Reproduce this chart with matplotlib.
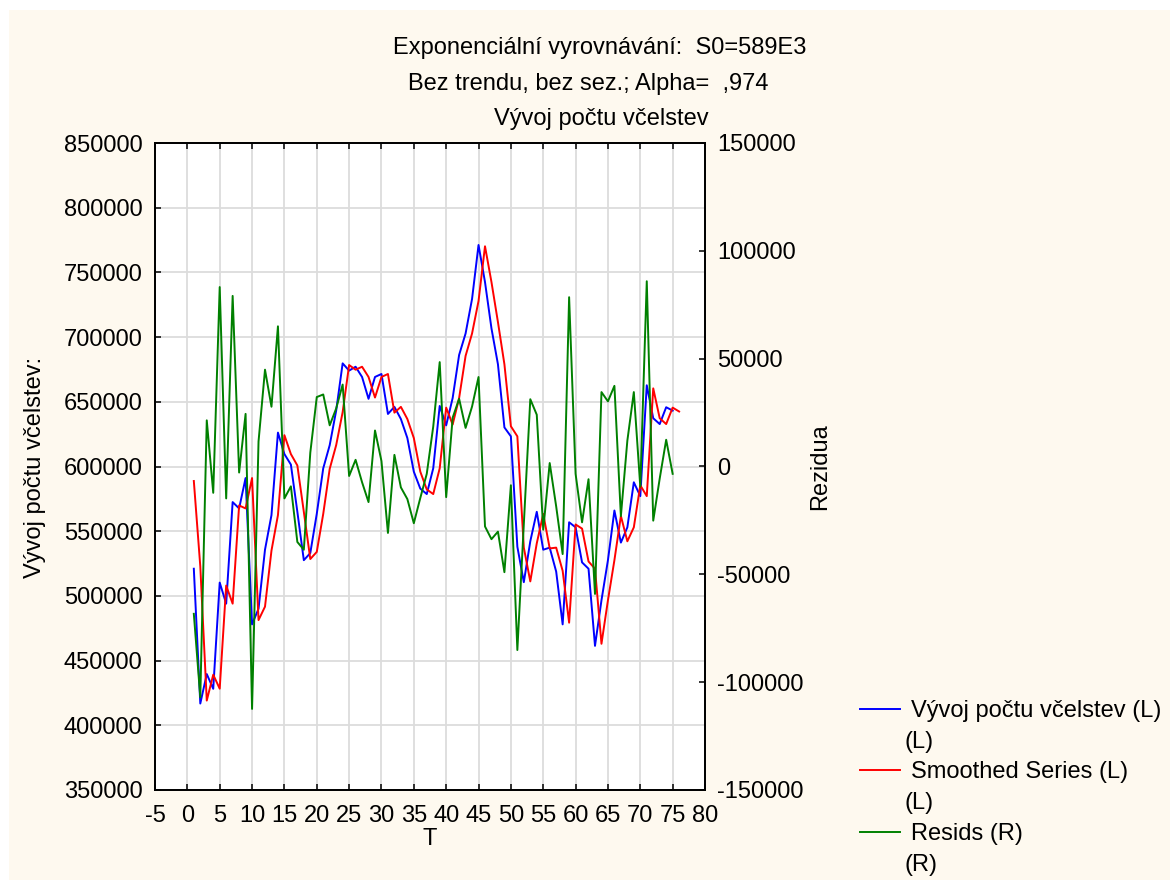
import matplotlib
matplotlib.use("Agg")
import matplotlib.pyplot as plt
from matplotlib.lines import Line2D
from matplotlib.patches import Rectangle

plt.rcParams['font.family'] = ['Liberation Sans', 'DejaVu Sans']

# ---------------- data ----------------
T = list(range(1, 76))
T_smooth = list(range(1, 77))

series = [521000, 416800, 439600, 428200, 510300, 494000, 572500, 567600, 591100, 478000,
          490100, 535700, 562400, 626200, 609600, 601500, 565000, 527600, 533100, 563400,
          598600, 616500, 643200, 679700, 674100, 677100, 669200, 652300, 669200, 671500,
          640600, 646100, 636700, 622000, 596000, 582900, 578700, 598600, 646800, 631800,
          652900, 686200, 702800, 729500, 771200, 742500, 706700, 679000, 630200, 623300,
          538000, 510600, 542200, 565000, 535700, 537300, 518800, 478000, 556900, 553000,
          525900, 521000, 461400, 496600, 527600, 566000, 541200, 553000, 587800, 577100,
          662800, 637300, 632800, 645800, 643200]

smoothed = [588800, 522800, 419100, 439100, 428300, 508000, 494000, 569900, 567600, 591100,
            481300, 491700, 535000, 562400, 624200, 609600, 600800, 565000, 528500, 534000,
            563400, 598200, 616500, 642000, 678400, 674800, 677100, 669200, 653300, 669200,
            671500, 641600, 646100, 636700, 622000, 596000, 582300, 578700, 598600, 645500,
            632400, 652900, 685500, 702800, 727900, 770200, 742500, 711600, 679000, 631100,
            623300, 537300, 511200, 540600, 563400, 536700, 537300, 519400, 479300, 555200,
            552000, 526600, 521000, 463000, 496600, 527600, 561800, 542200, 553000, 585500,
            577100, 660400, 637300, 632800, 645500, 642500]

resids = [-68300, -107000, 21400, -12200, 83200, -14800, 79100, -2800, 24400, -112400,
          11600, 44900, 27700, 65000, -14800, -9200, -35000, -38600, 6400, 32200,
          33400, 19100, 26900, 38000, -4400, 3100, -7300, -16500, 16700, 2500,
          -30800, 5400, -9700, -15100, -26300, -14600, -3400, 18500, 48400, -14200,
          22600, 31400, 17900, 27800, 41500, -27800, -33700, -30200, -49000, -8700,
          -85100, -26700, 31200, 24000, -29300, 1600, -18500, -40600, 78500, -3400,
          -25900, -5900, -59100, 34500, 30200, 37400, -23000, 12000, 34500, -9400,
          85900, -25100, -5600, 12400, -3400]

x_ticks = list(range(-5, 81, 5))
left_ticks = list(range(350000, 850001, 50000))
right_ticks = list(range(-150000, 150001, 50000))

title_lines = ["Exponenciální vyrovnávání:  S0=589E3",
               "Bez trendu, bez sez.; Alpha=  ,974",
               "Vývoj počtu včelstev"]
legend_labels = ["Vývoj počtu včelstev (L)", "Smoothed Series (L)", "Resids (R)"]
legend_sub = ["(L)", "(L)", "(R)"]
colors = ["#0000FF", "#FF0000", "#008000"]

# ---------------- figure ----------------
W, H = 1170, 880
fig = plt.figure(figsize=(W / 100, H / 100), dpi=100, facecolor="white")
fig.add_artist(Rectangle((9 / W, 0), 1 - 9 / W, 1 - 10 / H, transform=fig.transFigure,
                         facecolor="#FEF9EF", edgecolor="none", zorder=-10))

def fx(x):
    return x / W

def fy(y):
    return 1 - y / H

L, R, TOP, BOT = 155, 705, 143, 790
ax = fig.add_axes([fx(L), fy(BOT), (R - L) / W, (BOT - TOP) / H])
ax.set_facecolor("white")
ax2 = ax.twinx()

FS = 17
lw = 1.4

ax.plot(T, series, color=colors[0], lw=lw, zorder=3)
ax.plot(T_smooth, smoothed, color=colors[1], lw=lw, zorder=3)
ax2.plot(T, resids, color=colors[2], lw=lw, zorder=2)

ax.set_xlim(-5, 80)
ax.set_ylim(350000, 850000)
ax2.set_ylim(-150000, 150000)
ax.set_xticks(x_ticks)
ax.set_yticks(left_ticks)
ax2.set_yticks(right_ticks)
ax.set_xticklabels([str(v) for v in x_ticks])
ax.set_yticklabels([str(v) for v in left_ticks])
ax2.set_yticklabels([str(v) for v in right_ticks])

ax.grid(True, color="#DCDCDC", lw=1.3, zorder=0)
ax.set_axisbelow(True)

ax.tick_params(axis='x', direction='in', length=4, width=1.1, top=True, bottom=True,
               labelsize=FS, pad=11)
ax.tick_params(axis='y', direction='in', length=4, width=1.1, left=True, right=False,
               labelsize=FS, pad=9)
ax2.tick_params(axis='y', direction='in', length=4, width=1.1, labelsize=FS, pad=9)
for a in (ax, ax2):
    for s in a.spines.values():
        s.set_linewidth(1.3)
        s.set_color("black")

# axis labels
fig.text(fx(35), fy(467), "Vývoj počtu včelstev:", rotation=90, ha="center", va="center",
         fontsize=FS)
fig.text(fx(820), fy(467), "Rezidua", rotation=90, ha="center", va="center", fontsize=FS)
fig.text(fx(430), fy(839), "T", ha="center", va="center", fontsize=FS)

# titles
fig.text(fx(600), fy(54), title_lines[0], ha="center", va="baseline", fontsize=FS)
fig.text(fx(588), fy(90), title_lines[1], ha="center", va="baseline", fontsize=FS)
fig.text(fx(601), fy(125), title_lines[2], ha="center", va="baseline", fontsize=FS)

# legend
leg_y = [709, 770, 832]
for i in range(3):
    y = leg_y[i]
    fig.add_artist(Line2D([fx(860), fx(900)], [fy(y), fy(y)], color=colors[i], lw=1.4,
                          transform=fig.transFigure))
    fig.text(fx(911), fy(y + 2), legend_labels[i], ha="left", va="center", fontsize=FS)
    fig.text(fx(904), fy(y + 33), legend_sub[i], ha="left", va="center", fontsize=FS)

fig.savefig("out.png", dpi=100, facecolor=fig.get_facecolor())
